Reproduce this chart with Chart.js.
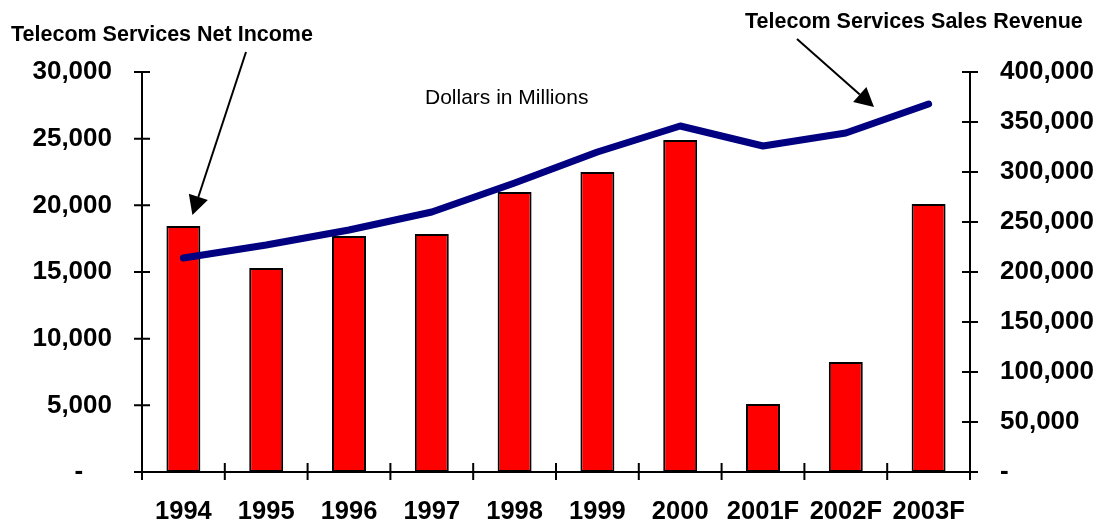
<!DOCTYPE html>
<html>
<head>
<meta charset="utf-8">
<script src="https://cdn.jsdelivr.net/npm/chart.js@4"></script>
<style>
  html, body { margin: 0; padding: 0; background: #ffffff; }
  #wrap { width: 1098px; height: 524px; }
</style>
</head>
<body>
<div id="wrap"><canvas id="chart" width="1098" height="524"></canvas></div>
<script>
// Categories and series (US$ millions)
const years = ['1994', '1995', '1996', '1997', '1998', '1999', '2000', '2001F', '2002F', '2003F'];
const netIncome = [18450, 15300, 17700, 17850, 21000, 22500, 24900, 5100, 8250, 20100];
const salesRevenue = [214000, 227000, 242000, 260000, 289000, 320000, 346000, 326000, 339000, 368000];

// Axis ranges
const incomeAxis = { min: 0, max: 30000, step: 5000 };
const revenueAxis = { min: 0, max: 400000, step: 50000 };

// Annotation texts
const incomeCaption = 'Telecom Services Net Income';
const revenueCaption = 'Telecom Services Sales Revenue';
const unitsCaption = 'Dollars in Millions';

const FONT = '"Liberation Sans", Arial, Helvetica, sans-serif';

function fmt(v) {
  return Number(v).toLocaleString('en-US');
}

// Axis lines with tick marks crossing the axis, Excel-style
const frame = {
  id: 'frame',
  afterDatasetsDraw(chart) {
    const { ctx, chartArea: a, scales } = chart;
    const x = scales.x, yl = scales.yIncome, yr = scales.yRevenue;
    const half = (x.getPixelForValue(1) - x.getPixelForValue(0)) / 2;
    ctx.save();
    ctx.strokeStyle = '#000';
    ctx.lineWidth = 2;
    ctx.lineCap = 'butt';
    ctx.beginPath();
    // left and right axes
    ctx.moveTo(a.left, a.top); ctx.lineTo(a.left, a.bottom);
    ctx.moveTo(a.right, a.top); ctx.lineTo(a.right, a.bottom);
    // baseline
    ctx.moveTo(a.left - 8, a.bottom); ctx.lineTo(a.right + 8, a.bottom);
    yl.ticks.forEach(t => {
      const p = yl.getPixelForValue(t.value);
      ctx.moveTo(a.left - 8, p); ctx.lineTo(a.left + 8, p);
    });
    yr.ticks.forEach(t => {
      const p = yr.getPixelForValue(t.value);
      ctx.moveTo(a.right - 8, p); ctx.lineTo(a.right + 8, p);
    });
    // category boundary ticks
    const n = years.length;
    for (let i = 0; i <= n; i++) {
      const p = i < n ? x.getPixelForValue(i) - half : x.getPixelForValue(n - 1) + half;
      ctx.moveTo(p, a.bottom - 9); ctx.lineTo(p, a.bottom + 8);
    }
    ctx.stroke();
    ctx.restore();
  }
};

function arrow(ctx, x1, y1, x2, y2, headLen, headW) {
  const ang = Math.atan2(y2 - y1, x2 - x1);
  const bx = x2 - headLen * Math.cos(ang), by = y2 - headLen * Math.sin(ang);
  ctx.beginPath();
  ctx.moveTo(x1, y1);
  ctx.lineTo(bx, by);
  ctx.stroke();
  ctx.beginPath();
  ctx.moveTo(x2, y2);
  ctx.lineTo(bx + headW / 2 * Math.sin(ang), by - headW / 2 * Math.cos(ang));
  ctx.lineTo(bx - headW / 2 * Math.sin(ang), by + headW / 2 * Math.cos(ang));
  ctx.closePath();
  ctx.fill();
}

// Series captions with pointer arrows, plus the units note
const captions = {
  id: 'captions',
  afterDraw(chart) {
    const { ctx, scales } = chart;
    const x = scales.x, yl = scales.yIncome;
    ctx.save();
    ctx.fillStyle = '#000';
    ctx.strokeStyle = '#000';
    ctx.textBaseline = 'alphabetic';
    ctx.textAlign = 'left';
    ctx.font = 'bold 21.5px ' + FONT;
    ctx.fillText(incomeCaption, 11, 41);
    ctx.fillText(revenueCaption, 745, 28);
    ctx.font = '21px ' + FONT;
    ctx.fillText(unitsCaption, 425, 104);

    ctx.lineWidth = 2;
    // pointer to the first income bar
    const tipX = x.getPixelForValue(0) + 9;
    const tipY = yl.getPixelForValue(netIncome[0]) - 11;
    arrow(ctx, 246, 52, tipX, tipY, 19, 20);
    // pointer to the revenue line
    arrow(ctx, 797, 39, 874, 107, 19, 20);
    ctx.restore();
  }
};

new Chart(document.getElementById('chart'), {
  data: {
    labels: years,
    datasets: [
      {
        type: 'line',
        label: 'Telecom Services Sales Revenue',
        data: salesRevenue,
        yAxisID: 'yRevenue',
        borderColor: '#000080',
        borderWidth: 7,
        borderCapStyle: 'round',
        borderJoinStyle: 'round',
        tension: 0,
        pointRadius: 0,
        clip: false,
        order: 0
      },
      {
        type: 'bar',
        label: 'Telecom Services Net Income',
        data: netIncome,
        yAxisID: 'yIncome',
        backgroundColor: '#ff0000',
        borderColor: '#000000',
        borderWidth: 2,
        borderSkipped: false,
        barPercentage: 0.41,
        categoryPercentage: 1.0,
        order: 1
      }
    ]
  },
  options: {
    responsive: false,
    devicePixelRatio: 1,
    animation: false,
    events: [],
    layout: { padding: { top: 72, left: 0, right: 0, bottom: 0 } },
    plugins: {
      legend: { display: false },
      title: { display: false },
      tooltip: { enabled: false }
    },
    scales: {
      x: {
        type: 'category',
        offset: true,
        grid: { display: false, drawTicks: false },
        border: { display: false },
        ticks: {
          color: '#000',
          font: { family: FONT, size: 25.5, weight: 'bold' },
          padding: 25,
          maxRotation: 0,
          autoSkip: false
        },
        afterFit(s) { s.height = 52; }
      },
      yIncome: {
        type: 'linear',
        position: 'left',
        min: incomeAxis.min,
        max: incomeAxis.max,
        grid: { display: false, drawTicks: false },
        border: { display: false },
        ticks: {
          stepSize: incomeAxis.step,
          color: '#000',
          font: { family: FONT, size: 26, weight: 'bold' },
          padding: 30,
          callback: v => v === 0 ? '-    ' : fmt(v)
        },
        afterFit(s) { s.width = 142; }
      },
      yRevenue: {
        type: 'linear',
        position: 'right',
        min: revenueAxis.min,
        max: revenueAxis.max,
        grid: { display: false, drawTicks: false },
        border: { display: false },
        ticks: {
          stepSize: revenueAxis.step,
          color: '#000',
          font: { family: FONT, size: 26, weight: 'bold' },
          padding: 30,
          callback: v => v === 0 ? '-' : fmt(v)
        },
        afterFit(s) { s.width = 128; }
      }
    }
  },
  plugins: [frame, captions]
});
</script>
</body>
</html>
